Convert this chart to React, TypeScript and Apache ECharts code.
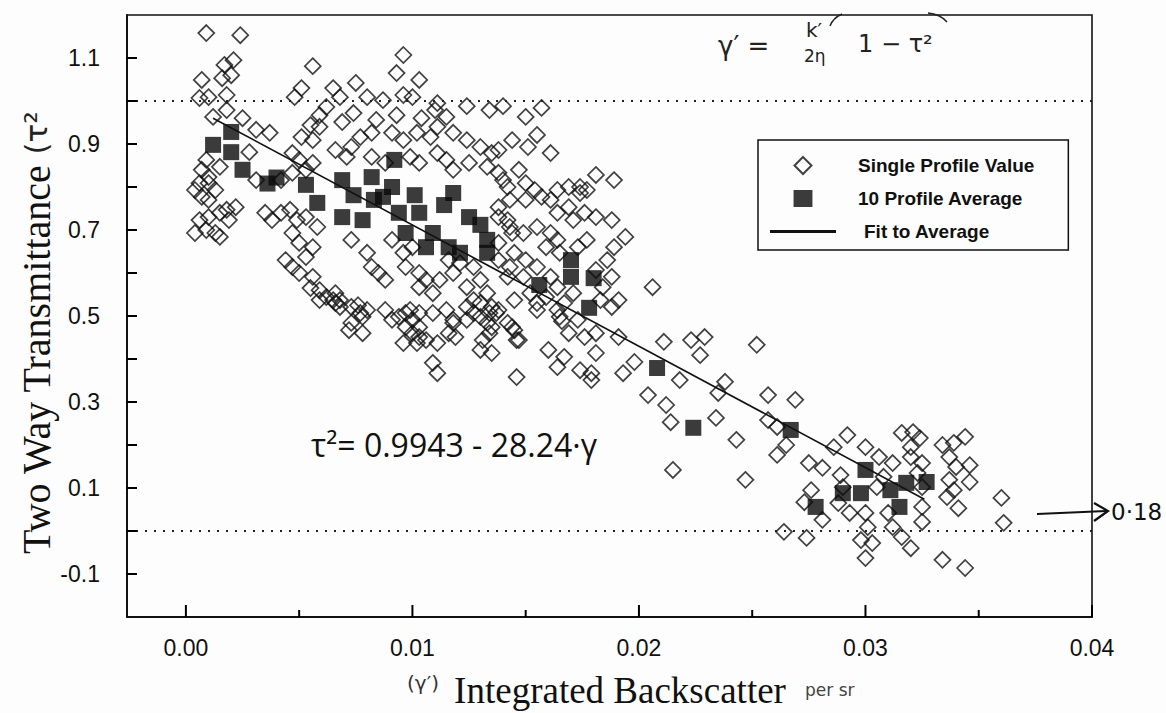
import React, { useEffect, useRef } from "react";
import * as echarts from "echarts";

// ---- axes ----
const xMin = -0.0026;
const xMax = 0.04;
const yMin = -0.2;
const yMax = 1.2;
const xLabelValues = [0, 0.01, 0.02, 0.03, 0.04];
const xMinorTickValues = [0.005, 0.015, 0.025, 0.035];
const yTickValues = [-0.1, 0, 0.1, 0.2, 0.3, 0.4, 0.5, 0.6, 0.7, 0.8, 0.9, 1.0, 1.1];
const yLabelValues = [-0.1, 0.1, 0.3, 0.5, 0.7, 0.9, 1.1];
const referenceLevels = [0, 1];

// ---- single profile values (open diamonds) ----
const singleProfileLeft: number[][] = [
  [0.0009, 1.158], [0.0024, 1.153], [0.0096, 1.107], [0.0021, 1.095], [0.0017, 1.084], [0.0056, 1.081],
  [0.002, 1.06], [0.0016, 1.053], [0.0007, 1.049], [0.0093, 1.065], [0.0103, 1.049], [0.0075, 1.042],
  [0.0051, 1.03], [0.0048, 1.009], [0.0065, 1.03], [0.0068, 1.009], [0.0018, 1.014], [0.001, 1.009],
  [0.0006, 1.007], [0.008, 1.009], [0.0087, 1.002], [0.0096, 1.014], [0.01, 1.009], [0.0111, 0.995],
  [0.0124, 0.988], [0.0134, 0.979], [0.014, 0.988], [0.0062, 0.986], [0.0059, 0.967], [0.0018, 0.979],
  [0.0012, 0.963], [0.0025, 0.96], [0.0074, 0.972], [0.0069, 0.951], [0.0084, 0.956], [0.0093, 0.967],
  [0.0104, 0.96], [0.0115, 0.963], [0.011, 0.979],
  [0.0031, 0.933], [0.0037, 0.926], [0.0055, 0.944], [0.0059, 0.94], [0.0051, 0.916], [0.0056, 0.909],
  [0.0077, 0.916], [0.0082, 0.926], [0.0073, 0.893], [0.0091, 0.926], [0.0096, 0.909], [0.0102, 0.926],
  [0.0108, 0.916], [0.0111, 0.94], [0.0118, 0.926], [0.0124, 0.909], [0.013, 0.893], [0.0135, 0.879],
  [0.0138, 0.886], [0.0144, 0.909],
  [0.0009, 0.863], [0.0007, 0.84], [0.001, 0.823], [0.0015, 0.847], [0.0028, 0.881], [0.0031, 0.816],
  [0.0047, 0.879], [0.005, 0.863], [0.0066, 0.886], [0.0071, 0.87], [0.0082, 0.87], [0.0088, 0.856],
  [0.0099, 0.87], [0.0103, 0.856], [0.0111, 0.879], [0.0115, 0.863], [0.0118, 0.84], [0.0125, 0.856],
  [0.0133, 0.847],
  [0.0006, 0.809], [0.0004, 0.793], [0.0007, 0.777], [0.001, 0.77], [0.0013, 0.793], [0.001, 0.809],
  [0.0042, 0.816], [0.0047, 0.833], [0.0053, 0.84], [0.0056, 0.856],
  [0.0035, 0.74], [0.0038, 0.723], [0.0042, 0.74], [0.0046, 0.747], [0.0049, 0.723], [0.0006, 0.723],
  [0.001, 0.73], [0.0015, 0.74], [0.0018, 0.747], [0.0022, 0.753], [0.0019, 0.723], [0.0004, 0.693],
  [0.0009, 0.7], [0.0013, 0.693], [0.0015, 0.684],
];

const singleProfileMid: number[][] = [
  [0.0053, 0.73], [0.0058, 0.707], [0.0047, 0.693], [0.005, 0.67], [0.0056, 0.66], [0.0053, 0.637],
  [0.0044, 0.63], [0.0047, 0.614], [0.005, 0.6], [0.0056, 0.591], [0.0059, 0.56], [0.0062, 0.544],
  [0.0066, 0.553], [0.0068, 0.537],
  [0.0073, 0.677], [0.008, 0.647], [0.0082, 0.614], [0.0085, 0.6], [0.0088, 0.584], [0.0091, 0.677],
  [0.0096, 0.647], [0.01, 0.66], [0.0097, 0.614], [0.0103, 0.6], [0.0106, 0.584], [0.0103, 0.567],
  [0.0109, 0.553], [0.0112, 0.584], [0.0118, 0.6], [0.0124, 0.567], [0.013, 0.584], [0.0127, 0.537],
  [0.0133, 0.553], [0.0135, 0.521],
  [0.014, 0.816], [0.0143, 0.77], [0.0138, 0.753], [0.0142, 0.723], [0.0144, 0.693], [0.0116, 0.63],
  [0.0121, 0.623], [0.0127, 0.614], [0.0138, 0.63], [0.0142, 0.591],
  [0.0055, 0.565], [0.0059, 0.537], [0.0065, 0.537], [0.0068, 0.521], [0.0073, 0.521], [0.0073, 0.484],
  [0.0077, 0.507], [0.008, 0.514], [0.0088, 0.514], [0.0091, 0.491], [0.0097, 0.507], [0.01, 0.491],
  [0.0103, 0.474], [0.0109, 0.507], [0.0115, 0.514], [0.0118, 0.491], [0.0124, 0.491], [0.013, 0.498],
  [0.0135, 0.474], [0.0142, 0.484],
  [0.0066, 0.53], [0.0076, 0.525], [0.0078, 0.498], [0.0072, 0.467], [0.0078, 0.46], [0.0094, 0.498],
  [0.0099, 0.514], [0.0103, 0.507], [0.0097, 0.474], [0.01, 0.46], [0.0103, 0.451], [0.0096, 0.437],
  [0.0102, 0.437], [0.0106, 0.444], [0.0111, 0.437], [0.0109, 0.391], [0.0111, 0.367], [0.0118, 0.484],
  [0.0116, 0.46], [0.0119, 0.451], [0.0124, 0.521], [0.0127, 0.507], [0.013, 0.53], [0.0134, 0.507],
  [0.0137, 0.507], [0.0133, 0.484], [0.0134, 0.46], [0.0131, 0.444], [0.013, 0.421], [0.0135, 0.414],
  [0.0144, 0.474], [0.0146, 0.444], [0.0146, 0.358],
  [0.015, 0.963], [0.0157, 0.984], [0.0155, 0.921], [0.0151, 0.893], [0.0161, 0.879],
  [0.0138, 0.833], [0.0147, 0.84], [0.0142, 0.8], [0.015, 0.809], [0.015, 0.77], [0.0154, 0.793],
  [0.0138, 0.73], [0.0143, 0.707], [0.0149, 0.693], [0.0157, 0.777], [0.0161, 0.77], [0.0164, 0.793],
  [0.0169, 0.8], [0.0174, 0.8], [0.0181, 0.828], [0.0189, 0.816], [0.0164, 0.74], [0.0169, 0.753],
  [0.0174, 0.786], [0.0177, 0.793], [0.0171, 0.723], [0.0176, 0.74], [0.0181, 0.73], [0.0155, 0.707],
  [0.0161, 0.693], [0.0164, 0.677], [0.0159, 0.66], [0.0165, 0.647], [0.0173, 0.66], [0.0177, 0.677],
  [0.0138, 0.67], [0.0145, 0.647], [0.015, 0.63], [0.0155, 0.614], [0.0161, 0.591], [0.0143, 0.614],
  [0.0149, 0.591], [0.0188, 0.723], [0.0194, 0.684], [0.0189, 0.66], [0.0186, 0.63], [0.0181, 0.607],
  [0.0188, 0.591], [0.0184, 0.567], [0.0183, 0.537], [0.0188, 0.521], [0.0191, 0.537], [0.0206, 0.567],
  [0.0164, 0.567], [0.0171, 0.553], [0.0167, 0.53], [0.0159, 0.544], [0.0152, 0.553], [0.0145, 0.537],
  [0.0155, 0.514], [0.0165, 0.498], [0.0173, 0.491],
];

const singleProfileRight: number[][] = [
  [0.0138, 0.514], [0.0155, 0.53], [0.0164, 0.514], [0.0166, 0.488], [0.0169, 0.46], [0.0176, 0.451],
  [0.0181, 0.46], [0.0191, 0.451], [0.0145, 0.467], [0.0147, 0.444], [0.016, 0.421], [0.0167, 0.405],
  [0.0164, 0.381], [0.0174, 0.374], [0.0179, 0.367], [0.0181, 0.414], [0.0179, 0.351], [0.0193, 0.367],
  [0.0198, 0.393],
  [0.0211, 0.44], [0.0223, 0.444], [0.0229, 0.451], [0.0227, 0.409], [0.0252, 0.433], [0.0218, 0.351],
  [0.0204, 0.316], [0.0212, 0.293], [0.0214, 0.253], [0.0234, 0.263], [0.0238, 0.347], [0.0235, 0.321],
  [0.0243, 0.212], [0.0215, 0.142], [0.0247, 0.119], [0.0257, 0.316], [0.0269, 0.305], [0.0257, 0.258],
  [0.0261, 0.242], [0.0265, 0.2], [0.0261, 0.177], [0.0275, 0.158], [0.0281, 0.147], [0.0276, 0.095],
  [0.0273, 0.067], [0.0281, 0.026], [0.0274, -0.016], [0.0264, -0.002], [0.0286, 0.195], [0.0292, 0.223],
  [0.03, 0.195], [0.0289, 0.13], [0.029, 0.102], [0.0288, 0.065], [0.0293, 0.042], [0.03, 0.042],
  [0.0301, 0.009], [0.0298, -0.021], [0.0303, -0.028], [0.03, -0.063], [0.0306, 0.172], [0.0312, 0.158],
  [0.0308, 0.126], [0.0305, 0.102], [0.0316, 0.228], [0.0321, 0.23], [0.0324, 0.216], [0.032, 0.195],
  [0.032, 0.172], [0.0325, 0.158], [0.0323, 0.135], [0.0325, 0.102], [0.0325, 0.056], [0.0325, 0.021],
  [0.0316, -0.014], [0.032, -0.04], [0.0312, 0.009], [0.031, 0.042], [0.0334, 0.2], [0.0339, 0.205],
  [0.0344, 0.219], [0.0337, 0.172], [0.034, 0.149], [0.0337, 0.119], [0.0339, 0.095], [0.0336, 0.079],
  [0.0341, 0.053], [0.0346, 0.153], [0.0346, 0.114], [0.0334, -0.067], [0.0344, -0.086], [0.036, 0.077],
  [0.0361, 0.019],
];

// ---- 10 profile averages (filled squares) ----
const profileAverage: number[][] = [
  [0.0012, 0.898], [0.002, 0.928], [0.002, 0.881], [0.0025, 0.84], [0.0036, 0.808], [0.004, 0.822],
  [0.0053, 0.805], [0.0058, 0.763], [0.0069, 0.816], [0.0069, 0.73], [0.0078, 0.723], [0.0082, 0.823],
  [0.0087, 0.777], [0.0092, 0.863], [0.0091, 0.8], [0.0094, 0.74], [0.0103, 0.74], [0.0106, 0.66],
  [0.0118, 0.786], [0.0116, 0.66], [0.0125, 0.73], [0.0133, 0.677], [0.0133, 0.647], [0.0109, 0.693],
  [0.0097, 0.693], [0.0121, 0.647], [0.0114, 0.758], [0.013, 0.712], [0.0101, 0.781], [0.0083, 0.77],
  [0.0074, 0.781],
  [0.017, 0.63], [0.017, 0.591], [0.018, 0.588], [0.0156, 0.572], [0.0178, 0.519], [0.0208, 0.379],
  [0.0224, 0.24], [0.0267, 0.235], [0.03, 0.142], [0.0278, 0.056], [0.029, 0.088], [0.0298, 0.088],
  [0.0311, 0.095], [0.0318, 0.112], [0.0327, 0.114], [0.0315, 0.056],
];

// ---- fit to average (end points of tau^2 = 0.9943 - 28.24 gamma) ----
const fitToAverage: number[][] = [
  [0.0012, 0.96],
  [0.0326, 0.074],
];

const INK = "#111";
const SANS = '"Liberation Sans", Arial, sans-serif';
const SERIF = '"Liberation Serif", "Times New Roman", serif';
const HAND = '"DejaVu Sans", sans-serif';

const DIAMOND_ICON = "path://M10,0L20,10L10,20L0,10Z";
const SQUARE_ICON = "path://M0,0H20V18H0Z";
const LINE_ICON = "path://M0,0H66V3H0Z";

const baseGraphics: any[] = [
  {
    type: "text",
    x: 36,
    y: 333,
    rotation: Math.PI / 2,
    style: {
      text: "{a|Two Way Transmittance}{b| (τ²}",
      rich: {
        a: { font: `40px ${SERIF}`, fill: INK },
        b: { font: `31px ${HAND}`, fill: "#222" },
      },
      textAlign: "center",
      textVerticalAlign: "middle",
    },
  },
  {
    type: "text",
    x: 620,
    y: 690,
    style: { text: "Integrated Backscatter", font: `37px ${SERIF}`, fill: INK, textAlign: "center", textVerticalAlign: "middle" },
  },
  {
    type: "text",
    x: 423,
    y: 683,
    style: { text: "(γ′)", font: `20px ${HAND}`, fill: "#333", textAlign: "center", textVerticalAlign: "middle" },
  },
  {
    type: "text",
    x: 805,
    y: 690,
    style: { text: "per sr", font: `17px ${HAND}`, fill: "#444", textAlign: "left", textVerticalAlign: "middle" },
  },
  {
    type: "text",
    x: 311,
    y: 444,
    style: { text: "τ²= 0.9943 - 28.24·γ", font: `32px "Open Sans", sans-serif`, fill: INK, textAlign: "left", textVerticalAlign: "middle" },
  },
  {
    type: "text",
    x: 718,
    y: 46,
    style: { text: "γ′ =", font: `26px ${HAND}`, fill: "#222", textAlign: "left", textVerticalAlign: "middle" },
  },
  {
    type: "text",
    x: 806,
    y: 30,
    style: { text: "k′", font: `20px ${HAND}`, fill: "#222", textAlign: "left", textVerticalAlign: "middle" },
  },
  {
    type: "text",
    x: 804,
    y: 56,
    style: { text: "2η", font: `17px ${HAND}`, fill: "#222", textAlign: "left", textVerticalAlign: "middle" },
  },
  {
    type: "text",
    x: 858,
    y: 44,
    style: { text: "1 − τ²", font: `24px ${HAND}`, fill: "#222", textAlign: "left", textVerticalAlign: "middle" },
  },
  {
    type: "bezierCurve",
    shape: { x1: 830, y1: 26, x2: 842, y2: 14, cpx1: 833, cpy1: 18 },
    style: { stroke: "#222", lineWidth: 1.5, fill: "none" },
  },
  {
    type: "bezierCurve",
    shape: { x1: 928, y1: 13, x2: 947, y2: 22, cpx1: 940, cpy1: 14 },
    style: { stroke: "#222", lineWidth: 1.5, fill: "none" },
  },
  {
    type: "line",
    shape: { x1: 1037, y1: 514, x2: 1106, y2: 511 },
    style: { stroke: "#111", lineWidth: 2.2 },
  },
  {
    type: "polyline",
    shape: { points: [[1094, 503], [1108, 511], [1094, 521]] },
    style: { stroke: "#111", lineWidth: 2.2, fill: "none" },
  },
  {
    type: "text",
    x: 1111,
    y: 512,
    style: { text: "0·18", font: `23px ${HAND}`, fill: "#111", textAlign: "left", textVerticalAlign: "middle" },
  },
];

export default function App() {
  const ref = useRef<HTMLDivElement>(null);

  useEffect(() => {
    if (!ref.current) return;
    const chart = echarts.init(ref.current, undefined, { renderer: "svg" });

    const option: any = {
      animation: false,
      backgroundColor: "#fdfdfd",
      grid: {
        left: 127,
        top: 15,
        right: 74,
        bottom: 96,
        show: true,
        borderColor: INK,
        borderWidth: 1.6,
        backgroundColor: "transparent",
      },
      xAxis: {
        type: "value",
        min: xMin,
        max: xMax,
        position: "bottom",
        splitLine: { show: false },
        axisLine: { show: true, onZero: false, lineStyle: { color: INK, width: 2 } },
        axisTick: { show: false },
        axisLabel: {
          customValues: xLabelValues,
          formatter: (v: number) => v.toFixed(2),
          margin: 19,
          color: INK,
          fontSize: 23,
          fontFamily: SANS,
        },
      },
      yAxis: {
        type: "value",
        min: yMin,
        max: yMax,
        splitLine: { show: false },
        axisLine: { show: true, onZero: false, lineStyle: { color: INK, width: 2 } },
        axisTick: { show: false },
        axisLabel: {
          customValues: yLabelValues,
          formatter: (v: number) => v.toFixed(1),
          margin: 27,
          color: INK,
          fontSize: 23,
          fontFamily: SANS,
        },
      },
      legend: {
        orient: "vertical",
        left: 758,
        top: 140,
        padding: [16, 34, 9, 12],
        itemWidth: 66,
        itemHeight: 17,
        itemGap: 14,
        symbolKeepAspect: true,
        borderColor: INK,
        borderWidth: 1.5,
        backgroundColor: "#fdfdfd",
        textStyle: {
          fontFamily: SANS,
          fontWeight: "bold",
          fontSize: 19,
          color: INK,
          padding: [0, 0, 0, 17],
        },
        data: [
          { name: "Single Profile Value", icon: DIAMOND_ICON },
          { name: "10 Profile Average", icon: SQUARE_ICON },
          { name: "Fit to Average", icon: LINE_ICON, textStyle: { padding: [0, 0, 0, 23] } },
        ],
      },
      series: [
        {
          name: "Single Profile Value",
          type: "scatter",
          symbol: "diamond",
          symbolSize: 16,
          z: 2,
          itemStyle: { color: "rgba(0,0,0,0)", borderColor: INK, borderWidth: 1.7 },
          data: [...singleProfileLeft, ...singleProfileMid, ...singleProfileRight],
          markLine: {
            silent: true,
            symbol: ["none", "none"],
            label: { show: false },
            lineStyle: { type: [2, 7], color: "#222", width: 2 },
            data: referenceLevels.map((v) => ({ yAxis: v })),
          },
        },
        {
          name: "10 Profile Average",
          type: "scatter",
          symbol: "rect",
          symbolSize: 16,
          z: 3,
          itemStyle: { color: "#0a0a0a" },
          data: profileAverage,
        },
        {
          name: "Fit to Average",
          type: "line",
          symbol: "none",
          showSymbol: false,
          z: 4,
          color: INK,
          itemStyle: { color: INK },
          lineStyle: { color: INK, width: 1.6 },
          data: fitToAverage,
        },
      ],
      graphic: baseGraphics,
    };

    chart.setOption(option);

    // axis ticks, placed through the chart's own scales
    const ticks: any[] = [];
    const tick = (x1: number, y1: number, x2: number, y2: number) =>
      ticks.push({ type: "line", z: 100, shape: { x1, y1, x2, y2 }, style: { stroke: "#000", lineWidth: 2 } });
    xLabelValues.forEach((v) => {
      const p = chart.convertToPixel({ gridIndex: 0 }, [v, yMin]) as number[];
      tick(p[0], p[1], p[0], p[1] - 12);
    });
    xMinorTickValues.forEach((v) => {
      const p = chart.convertToPixel({ gridIndex: 0 }, [v, yMin]) as number[];
      tick(p[0], p[1], p[0], p[1] - 7);
    });
    yTickValues.forEach((v) => {
      const p = chart.convertToPixel({ gridIndex: 0 }, [xMin, v]) as number[];
      tick(p[0], p[1], p[0] + 10, p[1]);
    });
    chart.setOption({ graphic: [...baseGraphics, ...ticks] });

    return () => chart.dispose();
  }, []);

  return <div ref={ref} style={{ position: "fixed", left: 0, top: 0, width: 1166, height: 713 }} />;
}
